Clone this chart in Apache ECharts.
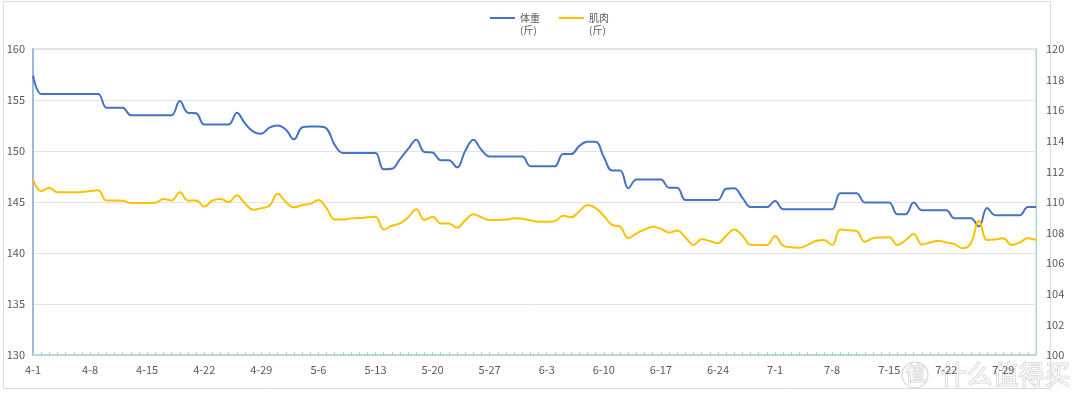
<!DOCTYPE html>
<html>
<head>
<meta charset="utf-8">
<script src="https://cdn.jsdelivr.net/npm/echarts@6/dist/echarts.min.js"></script>
<style>
html,body{margin:0;padding:0;background:#fff;}
#c{width:1080px;height:406px;}
</style>
</head>
<body>
<div id="c"></div>
<script>
const categories = [
'4-1','4-2','4-3','4-4','4-5','4-6','4-7','4-8','4-9','4-10','4-11','4-12','4-13','4-14','4-15','4-16','4-17','4-18','4-19','4-20','4-21','4-22','4-23','4-24','4-25','4-26','4-27','4-28','4-29','4-30',
'5-1','5-2','5-3','5-4','5-5','5-6','5-7','5-8','5-9','5-10','5-11','5-12','5-13','5-14','5-15','5-16','5-17','5-18','5-19','5-20','5-21','5-22','5-23','5-24','5-25','5-26','5-27','5-28','5-29','5-30','5-31',
'6-1','6-2','6-3','6-4','6-5','6-6','6-7','6-8','6-9','6-10','6-11','6-12','6-13','6-14','6-15','6-16','6-17','6-18','6-19','6-20','6-21','6-22','6-23','6-24','6-25','6-26','6-27','6-28','6-29','6-30',
'7-1','7-2','7-3','7-4','7-5','7-6','7-7','7-8','7-9','7-10','7-11','7-12','7-13','7-14','7-15','7-16','7-17','7-18','7-19','7-20','7-21','7-22','7-23','7-24','7-25','7-26','7-27','7-28','7-29','7-30','7-31',
'8-1','8-2'
];
const seriesNames = ['体重', '肌肉'];
const unitLabel = '(斤)';
const weight = [
157.4,155.6,155.6,155.6,155.6,155.6,155.6,155.6,155.6,154.25,
154.25,154.25,153.5,153.5,153.5,153.5,153.5,153.5,154.9,153.75,
153.7,152.6,152.6,152.6,152.6,153.75,152.7,151.9,151.7,152.3,
152.5,152.1,151.15,152.3,152.4,152.4,152.2,150.6,149.8,149.8,
149.8,149.8,149.8,148.2,148.25,149.2,150.2,151.1,149.9,149.85,
149.1,149.1,148.4,150.0,151.1,150.1,149.45,149.45,149.45,149.45,
149.45,148.5,148.5,148.5,148.5,149.7,149.7,150.5,150.9,150.9,
149.4,148.1,148.1,146.35,147.2,147.2,147.2,147.2,146.4,146.4,
145.2,145.2,145.2,145.2,145.2,146.3,146.35,145.4,144.5,144.5,
144.5,145.1,144.3,144.3,144.3,144.3,144.3,144.3,144.3,145.85,
145.85,145.85,144.95,144.95,144.95,144.95,143.8,143.8,144.95,144.2,
144.2,144.2,144.2,143.4,143.4,143.4,142.6,144.4,143.7,143.7,
143.7,143.7,144.5,144.5
];
const muscle = [
111.5,110.7,110.93,110.63,110.63,110.63,110.65,110.72,110.76,110.09,
110.09,110.08,109.93,109.93,109.93,109.95,110.2,110.1,110.63,110.1,
110.1,109.7,110.1,110.2,110.0,110.44,109.9,109.5,109.6,109.75,
110.54,110.0,109.65,109.8,109.88,110.13,109.6,108.85,108.85,108.93,
108.95,109.0,109.04,108.2,108.45,108.6,109.0,109.52,108.82,109.04,
108.6,108.6,108.32,108.8,109.2,109.0,108.82,108.82,108.85,108.93,
108.9,108.8,108.71,108.71,108.75,109.1,109.0,109.4,109.8,109.6,
109.1,108.5,108.39,107.63,107.95,108.2,108.39,108.25,108.0,108.13,
107.7,107.19,107.56,107.45,107.3,107.8,108.2,107.8,107.2,107.19,
107.19,107.78,107.14,107.05,107.01,107.2,107.45,107.52,107.19,108.2,
108.15,108.1,107.41,107.63,107.68,107.7,107.19,107.5,107.91,107.23,
107.35,107.47,107.35,107.25,106.97,107.3,108.78,107.52,107.55,107.63,
107.19,107.35,107.63,107.52
];
const leftTicks = {min:130, max:160, interval:5};
const rightTicks = {min:100, max:120, interval:2};

const FONT = '"Noto Sans CJK SC", "Noto Sans", sans-serif';
const chart = echarts.init(document.getElementById('c'), null, {renderer:'canvas'});
chart.setOption({
  animation:false,
  backgroundColor:'#fff',
  textStyle:{fontFamily:FONT},
  graphic:[
    {type:'rect', shape:{x:3.5,y:1.5,width:1047,height:387}, style:{fill:'none',stroke:'#dcdcdc',lineWidth:1}, silent:true, z:-10},
    {type:'circle', shape:{cx:915,cy:375,r:13}, style:{fill:'none',stroke:'rgba(190,190,190,0.6)',lineWidth:1.2}, silent:true},
    {type:'text', left:905, top:363, style:{text:'值', font:'20px "Noto Sans CJK SC"', fill:'rgba(255,255,255,0.6)', stroke:'rgba(185,185,185,0.7)', lineWidth:1}, silent:true},
    {type:'text', left:940, top:361, style:{text:'什么值得买', font:'26px "Noto Sans CJK SC"', fill:'rgba(255,255,255,0.6)', stroke:'rgba(185,185,185,0.7)', lineWidth:1}, silent:true}
  ],
  legend:{
    left:490, top:12, padding:0,
    itemWidth:25, itemHeight:14, itemGap:19,
    icon:'path://M0,0H25V2H0Z M0,13.9H0.05V14H0Z',
    data:seriesNames,
    formatter:function(n){return n + '\n' + unitLabel;},
    textStyle:{fontSize:10, lineHeight:12, color:'#595959', fontFamily:FONT}
  },
  grid:{left:33, right:44, top:49, bottom:51, show:true, borderColor:'#a9d6d2', borderWidth:1, backgroundColor:'transparent'},
  xAxis:{
    type:'category', data:categories, boundaryGap:false,
    axisLine:{lineStyle:{color:'#a9d6d2', width:1.5}},
    axisTick:{show:true, inside:true, length:3, interval:0, lineStyle:{color:'#a9d6d2'}},
    axisLabel:{interval:6, color:'#595959', fontSize:11, margin:9, fontFamily:FONT},
    splitLine:{show:false}
  },
  yAxis:[
    {type:'value', min:leftTicks.min, max:leftTicks.max, interval:leftTicks.interval,
     axisLine:{show:true, lineStyle:{color:'#9db8e0', width:2}},
     axisTick:{show:false},
     axisLabel:{color:'#595959', fontSize:11, margin:8, fontFamily:FONT},
     splitLine:{lineStyle:{color:'#e3e3e3'}}},
    {type:'value', min:rightTicks.min, max:rightTicks.max, interval:rightTicks.interval, position:'right',
     axisLine:{show:true, lineStyle:{color:'#a9d6d2', width:1}},
     axisTick:{show:false},
     axisLabel:{color:'#595959', fontSize:11, margin:10, fontFamily:FONT},
     splitLine:{show:false}}
  ],
  series:[
    {name:seriesNames[0], type:'line', data:weight, yAxisIndex:0, smooth:0.4, symbol:'none',
     lineStyle:{color:'#4472C4', width:2}, itemStyle:{color:'#4472C4'}},
    {name:seriesNames[1], type:'line', data:muscle, yAxisIndex:1, smooth:0.4, symbol:'none',
     lineStyle:{color:'#FFC000', width:2}, itemStyle:{color:'#FFC000'}}
  ]
});
</script>
</body>
</html>
